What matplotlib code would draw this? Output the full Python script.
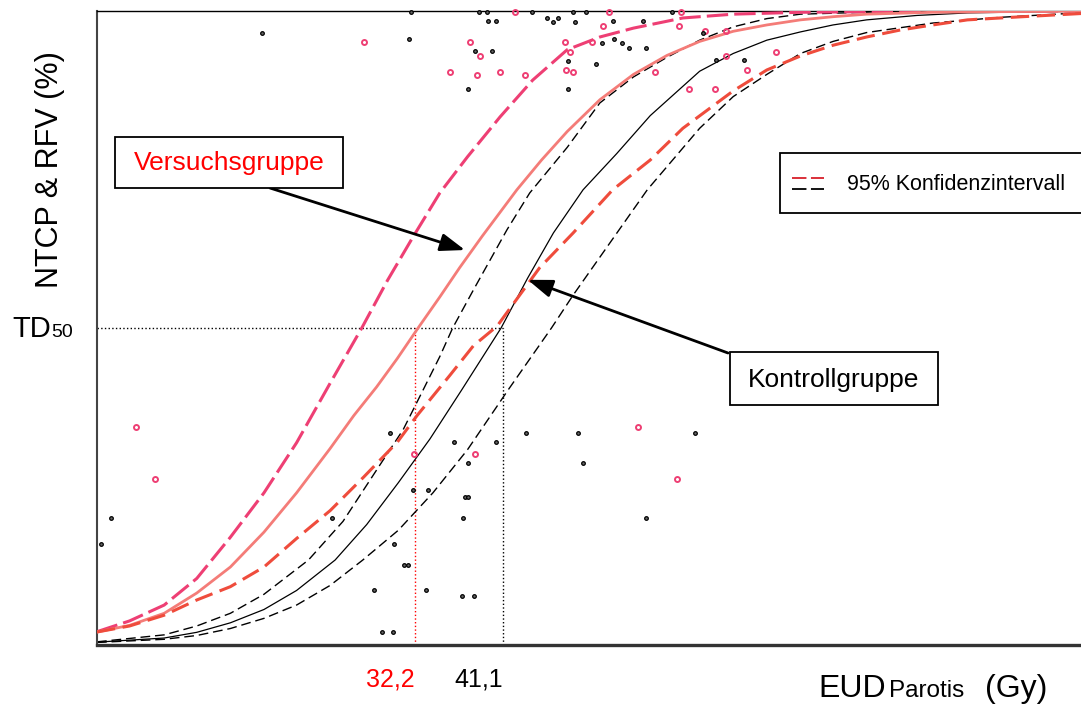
import matplotlib
matplotlib.use("Agg")
import matplotlib.pyplot as plt
import matplotlib.transforms as mtransforms
from matplotlib.patches import Rectangle
from matplotlib.lines import Line2D

plt.rcParams['font.family'] = ['Liberation Sans', 'DejaVu Sans']

# Versuchsgruppe: oberes Konfidenzintervall, Fit, unteres Konfidenzintervall (EUD in Gy, NTCP in %)
vg_upper_x = [0, 3.3, 6.8, 10.1, 13.5, 16.9, 20.2, 23.6, 26.8, 29.4, 32.0, 34.7, 37.5, 40.8, 44.1, 47.6, 50.9, 54.3, 59.3, 64.4, 71.2, 80.0, 99.6]
vg_upper_y = [2.1, 3.8, 6.3, 10.5, 17.0, 24.0, 31.9, 41.3, 50.0, 57.5, 64.4, 71.3, 77.0, 83.3, 89.1, 93.9, 95.9, 97.3, 98.9, 99.5, 99.8, 99.9, 100]

vg_fit_x = [0, 3.3, 6.8, 10.1, 13.5, 16.9, 20.2, 23.6, 26.0, 28.3, 30.4, 32.5, 34.7, 36.7, 39.0, 42.5, 45.0, 47.6, 50.9, 54.3, 57.7, 61.0, 64.4, 67.8, 71.2, 74.5, 77.9, 84.6, 99.6]
vg_fit_y = [2.05, 3.1, 5.0, 8.2, 12.3, 17.8, 24.0, 31.0, 36.2, 40.7, 45.2, 50.0, 54.9, 59.5, 64.5, 71.8, 76.5, 81.0, 86.0, 90.0, 93.0, 95.2, 96.8, 97.8, 98.6, 99.1, 99.5, 99.8, 100]

vg_lower_x = [0, 3.3, 6.8, 10.1, 13.5, 16.9, 20.2, 23.6, 27.0, 30.4, 32.4, 35.7, 38.1, 40.5, 44.8, 48.2, 52.2, 56.0, 59.3, 64.4, 67.8, 71.2, 74.5, 77.9, 81.3, 84.6, 88.1, 93.1, 99.6]
vg_lower_y = [2.05, 3.0, 4.7, 7.1, 9.2, 12.3, 16.8, 21.2, 26.5, 32.0, 36.2, 42.5, 47.2, 50.3, 59.5, 65.0, 71.8, 76.5, 81.5, 87.4, 90.7, 92.9, 94.6, 95.9, 97.0, 97.8, 98.6, 99.05, 99.6]

# Kontrollgruppe
kg_upper_x = [0, 6.8, 10.1, 13.5, 16.9, 21.4, 24.9, 28.3, 31.0, 33.0, 34.7, 36.0, 38.1, 41.5, 43.8, 47.6, 50.9, 54.3, 57.7, 61.0, 64.4, 67.8, 71.2, 80.0, 99.6]
kg_upper_y = [0.5, 1.6, 3.0, 5.0, 8.0, 13.4, 19.5, 27.6, 34.0, 40.2, 45.5, 50.0, 56.0, 65.5, 71.3, 78.5, 85.5, 89.6, 92.7, 95.4, 97.5, 98.8, 99.5, 99.9, 100]

kg_fit_x = [0, 6.8, 10.1, 13.5, 16.9, 20.2, 24.1, 27.3, 30.5, 33.7, 36.9, 40.9, 43.6, 46.2, 49.2, 52.6, 56.0, 61.0, 64.4, 67.8, 71.2, 74.5, 77.9, 83.0, 88.1, 99.6]
kg_fit_y = [0.45, 1.1, 2.0, 3.5, 5.6, 8.6, 13.4, 19.0, 25.6, 32.5, 40.2, 50.0, 57.9, 65.0, 71.8, 77.5, 83.5, 90.5, 93.3, 95.4, 96.7, 97.8, 98.6, 99.3, 99.7, 100]

kg_lower_x = [0, 6.8, 10.1, 13.5, 16.9, 20.2, 23.6, 26.9, 30.5, 34.0, 37.5, 41.6, 46.0, 48.2, 51.5, 55.7, 61.0, 64.4, 67.8, 71.2, 74.5, 77.9, 84.6, 91.4, 98.2, 99.6]
kg_lower_y = [0.4, 0.9, 1.5, 2.6, 4.2, 6.3, 9.4, 13.4, 18.1, 24.0, 30.8, 40.2, 50.0, 55.2, 62.5, 71.8, 81.5, 86.5, 90.0, 93.3, 95.2, 96.6, 98.1, 99.0, 99.6, 99.7]

# Einzelwerte (RFV)
vg_pts_x = [27.0, 37.8, 38.8, 35.7, 38.5, 40.8, 43.3, 42.3, 51.8, 51.2, 59.1, 58.9, 47.4, 50.1, 47.9, 47.5, 48.2, 56.5, 59.9, 62.6, 63.7, 65.8, 68.7, 61.5, 63.7,
            3.9, 5.9, 32.1, 38.3, 54.8, 58.7]
vg_pts_y = [95.1, 95.1, 92.9, 90.4, 89.9, 90.4, 89.9, 99.8, 99.8, 97.6, 99.8, 97.6, 95.1, 95.1, 93.5, 90.7, 90.4, 90.4, 87.7, 87.7, 92.9, 90.7, 93.5, 96.8, 96.8,
            34.4, 26.2, 30.1, 30.1, 34.4, 26.2]

kg_pts_x = [16.7, 31.6, 31.8, 38.3, 40.0, 37.6, 38.7, 39.5, 39.6, 40.4, 44.0, 45.5, 46.2, 46.7, 48.2, 48.4, 49.5, 52.2, 55.3, 58.2, 47.7, 47.7, 50.5, 51.1, 52.3,
            53.1, 53.8, 55.6, 62.7, 65.5, 61.3,
            0.4, 1.4, 23.8, 29.7, 36.1, 40.4, 37.6, 32.0, 33.5, 37.2, 37.6, 37.0, 30.1, 31.1, 31.5, 28.0, 33.3, 36.9, 38.2, 28.8, 30.0, 43.4, 48.7, 49.2, 55.6, 60.5]
kg_pts_y = [96.5, 95.6, 99.8, 93.7, 93.7, 87.7, 99.8, 99.8, 98.4, 98.4, 99.8, 98.9, 98.3, 98.9, 99.8, 98.3, 99.8, 98.4, 98.4, 99.8, 92.1, 87.7, 91.6, 95.0, 95.6,
            95.0, 94.2, 94.2, 92.3, 92.3, 96.5,
            15.9, 20.0, 20.0, 33.4, 32.0, 32.0, 28.7, 24.4, 24.4, 23.3, 23.3, 20.0, 15.9, 12.6, 12.6, 8.7, 8.7, 7.7, 7.7, 2.1, 2.1, 33.4, 33.4, 28.7, 20.0, 33.4]

td50_vg = 32.2
td50_kg = 41.1

W, H = 1081, 704


def fx(x):
    return x / W


def fy(y):
    return 1 - y / H


fig = plt.figure(figsize=(W / 100, H / 100), dpi=100)
ax = fig.add_axes([fx(97), fy(645), fx(984), 634 / H])
ax.set_xlim(0, 99.6)
ax.set_ylim(0, 100)
ax.set_xticks([])
ax.set_yticks([])
ax.spines['right'].set_visible(False)
ax.spines['top'].set_linewidth(1.0)
ax.spines['left'].set_linewidth(1.5)
ax.spines['left'].set_color('#444444')
ax.spines['bottom'].set_linewidth(2.4)
ax.spines['bottom'].set_color('#333333')

# TD50 Hilfslinien
ax.plot([0, td50_kg], [50, 50], color='black', ls=':', lw=1, zorder=1)
ax.plot([td50_vg, td50_vg], [0, 50], color='red', ls=':', lw=1, zorder=1)
ax.plot([td50_kg, td50_kg], [0, 50], color='black', ls=':', lw=1, zorder=1)

# Kurven
ax.plot(vg_upper_x, vg_upper_y, color='#EE3F74', lw=2.2, dashes=(7, 2), zorder=3)
ax.plot(vg_fit_x, vg_fit_y, color='#F47C78', lw=2.0, zorder=3)
ax.plot(vg_lower_x, vg_lower_y, color='#EF4C3C', lw=2.2, dashes=(6, 2.5), zorder=3)
ax.plot(kg_upper_x, kg_upper_y, color='black', lw=1.0, dashes=(7, 3.5), zorder=2)
ax.plot(kg_fit_x, kg_fit_y, color='black', lw=0.9, zorder=2)
ax.plot(kg_lower_x, kg_lower_y, color='black', lw=1.0, dashes=(7, 3.5), zorder=2)

# Einzelwerte
ax.plot(vg_pts_x, vg_pts_y, ls='none', marker='o', ms=3.6, mfc='none', mec='#EE3F74', mew=1.4, zorder=4, clip_on=False)
ax.plot(kg_pts_x, kg_pts_y, ls='none', marker='o', ms=2.6, mfc='#666666', mec='black', mew=0.9, zorder=4, clip_on=False)

# Achsenbeschriftungen
fig.text(fx(50), fy(170), 'NTCP & RFV (%)', rotation=90, ha='center', va='center', fontsize=22)
fig.text(fx(12), fy(337), 'TD', ha='left', va='baseline', fontsize=21)
fig.text(fx(51), fy(337), '50', ha='left', va='baseline', fontsize=14)
fig.text(fx(818), fy(697), 'EUD', ha='left', va='baseline', fontsize=23)
fig.text(fx(889), fy(697), 'Parotis', ha='left', va='baseline', fontsize=17.5)
fig.text(fx(985), fy(697), '(Gy)', ha='left', va='baseline', fontsize=23)

xfig = mtransforms.blended_transform_factory(ax.transData, fig.transFigure)
ax.text(td50_vg, fy(687), '32,2', transform=xfig, color='red', ha='right', va='baseline', fontsize=18)
ax.text(td50_kg, fy(687), '41,1', transform=xfig, color='black', ha='right', va='baseline', fontsize=18)

# Kästen
fig.add_artist(Rectangle((fx(115), fy(188)), fx(228), 51 / H, transform=fig.transFigure, fc='white', ec='black', lw=1.3))
fig.text(fx(229), fy(163), 'Versuchsgruppe', color='red', ha='center', va='center', fontsize=19)
fig.add_artist(Rectangle((fx(730), fy(405)), fx(208), 53 / H, transform=fig.transFigure, fc='white', ec='black', lw=1.3))
fig.text(fx(834), fy(380), 'Kontrollgruppe', color='black', ha='center', va='center', fontsize=19)
fig.add_artist(Rectangle((fx(780), fy(213)), fx(400), 60 / H, transform=fig.transFigure, fc='white', ec='black', lw=1.3))
fig.text(fx(847), fy(184), '95% Konfidenzintervall', color='black', ha='left', va='center', fontsize=15.5)
fig.add_artist(Line2D([fx(792), fx(824)], [fy(178), fy(178)], transform=fig.transFigure, color='#D8202A', lw=1.3, dashes=(8, 2.5, 8, 3, 1, 3)))
fig.add_artist(Line2D([fx(792), fx(824)], [fy(189), fy(189)], transform=fig.transFigure, color='black', lw=1.3, dashes=(8, 2.5, 8, 3, 1, 3)))

# Pfeile
arrow = dict(arrowstyle='-|>,head_length=0.75,head_width=0.27', color='black', lw=2, mutation_scale=20, shrinkA=0, shrinkB=0)
ax.annotate('', xy=(37.25, 62.3), xycoords='data', xytext=(fx(270), fy(188)), textcoords='figure fraction', arrowprops=arrow, zorder=5)
ax.annotate('', xy=(43.6, 57.6), xycoords='data', xytext=(fx(728), fy(353)), textcoords='figure fraction', arrowprops=arrow, zorder=5)

fig.savefig('out.png', dpi=100)
